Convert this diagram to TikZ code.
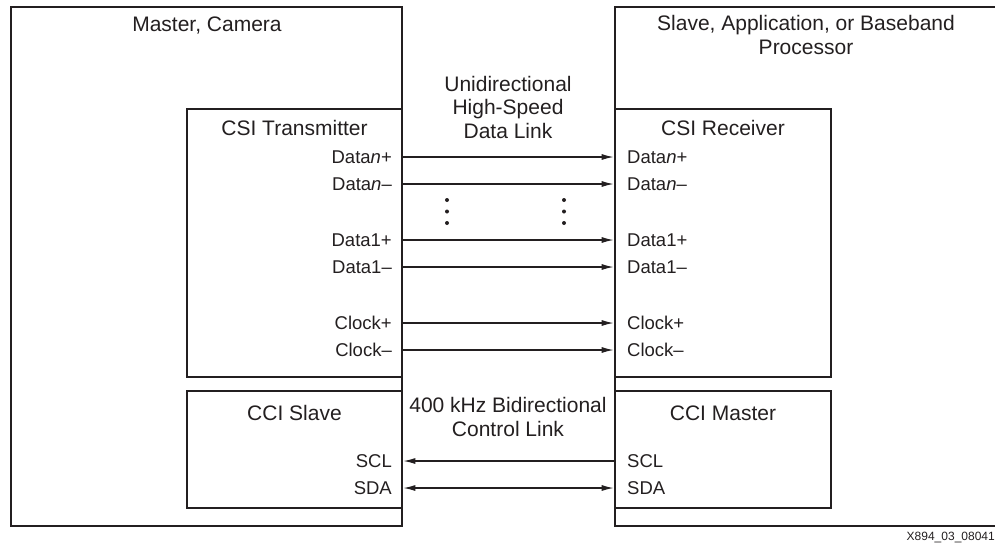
\documentclass[tikz,border=0pt]{standalone}
\usepackage{fontspec}
\setmainfont{Liberation Sans}
\usetikzlibrary{positioning,arrows.meta}
\definecolor{ink}{HTML}{231F20}

\tikzset{
  box/.style={draw=ink, line width=2.6pt, inner sep=0pt},
  title/.style={inner sep=0pt, font=\fontsize{21}{23.5}\selectfont, text=ink, align=center},
  port/.style={inner sep=0pt, font=\fontsize{18.5}{20}\selectfont, text=ink},
  sig/.style={draw=ink, line width=1.3pt, -{Latex[length=12pt,width=6pt]}},
}

\begin{document}
\begin{tikzpicture}[x=1pt, y=-1pt]
\useasboundingbox (0,0) rectangle (995,550);
% outer boxes
\node[box, minimum width=391pt, minimum height=519pt] (master) at (206.5,266.5) {};
\draw[box] (995,7) -| (615,526) -- (995,526);
\node[title, anchor=base] (mastertitle) at (207,31) {Master, Camera};
\node[title] (slavetitle) at (806,35) {Slave, Application, or Baseband\\Processor};
% inner blocks
\node[box, minimum width=215pt, minimum height=268pt] (tx) at (294.5,243) {};
\node[box, minimum width=216pt, minimum height=268pt] (rx) at (723,243) {};
\node[box, minimum width=215pt, minimum height=117pt] (ccis) at (294.5,449.5) {};
\node[box, minimum width=216pt, minimum height=117pt] (ccim) at (723,449.5) {};
\node[title, anchor=base] (txtitle) at (294.5,135) {CSI Transmitter};
\node[title, anchor=base] (rxtitle) at (723,135) {CSI Receiver};
\node[title, anchor=base] (ccistitle) at (294.5,420) {CCI Slave};
\node[title, anchor=base] (ccimtitle) at (723,420) {CCI Master};
% link captions
\node[title] (csilink) at (508,107) {Unidirectional\\High-Speed\\Data Link};
\node[title] (ccilink) at (508,417) {400 kHz Bidirectional\\Control Link};
% transmitter pins
\node[port, anchor=east] (txdnp) at (392,157) {Data\textit{n}+};
\node[port, anchor=east] (txdnm) at (392,184) {Data\textit{n}–};
\node[port, anchor=east] (txd1p) at (392,240) {Data1+};
\node[port, anchor=east] (txd1m) at (392,267) {Data1–};
\node[port, anchor=east] (txckp) at (392,323) {Clock+};
\node[port, anchor=east] (txckm) at (392,350) {Clock–};
\node[port, anchor=east] (scls) at (392,461) {SCL};
\node[port, anchor=east] (sdas) at (392,488) {SDA};
% receiver pins
\node[port, anchor=west] (rxdnp) at (627,157) {Data\textit{n}+};
\node[port, anchor=west] (rxdnm) at (627,184) {Data\textit{n}–};
\node[port, anchor=west] (rxd1p) at (627,240) {Data1+};
\node[port, anchor=west] (rxd1m) at (627,267) {Data1–};
\node[port, anchor=west] (rxckp) at (627,323) {Clock+};
\node[port, anchor=west] (rxckm) at (627,350) {Clock–};
\node[port, anchor=west] (sclm) at (627,461) {SCL};
\node[port, anchor=west] (sdam) at (627,488) {SDA};
% lanes
\draw[sig] (tx.east |- txdnp) -- (rx.west |- rxdnp);
\draw[sig] (tx.east |- txdnm) -- (rx.west |- rxdnm);
\draw[sig] (tx.east |- txd1p) -- (rx.west |- rxd1p);
\draw[sig] (tx.east |- txd1m) -- (rx.west |- rxd1m);
\draw[sig] (tx.east |- txckp) -- (rx.west |- rxckp);
\draw[sig] (tx.east |- txckm) -- (rx.west |- rxckm);
\draw[sig] (ccim.west |- sclm) -- (ccis.east |- scls);
\draw[sig, {Latex[length=12pt,width=6pt]}-{Latex[length=12pt,width=6pt]}] (ccis.east |- sdas) -- (ccim.west |- sdam);
% ellipsis dots
\fill[ink] (447,200) circle (2pt) (447,211.5) circle (2pt) (447,223) circle (2pt);
\fill[ink] (564,200) circle (2pt) (564,211.5) circle (2pt) (564,223) circle (2pt);
\node[anchor=base east, inner sep=0pt, font=\fontsize{12}{14}\selectfont, text=ink] (figid) at (995,540) {X894\_03\_08041};
\end{tikzpicture}
\end{document}
